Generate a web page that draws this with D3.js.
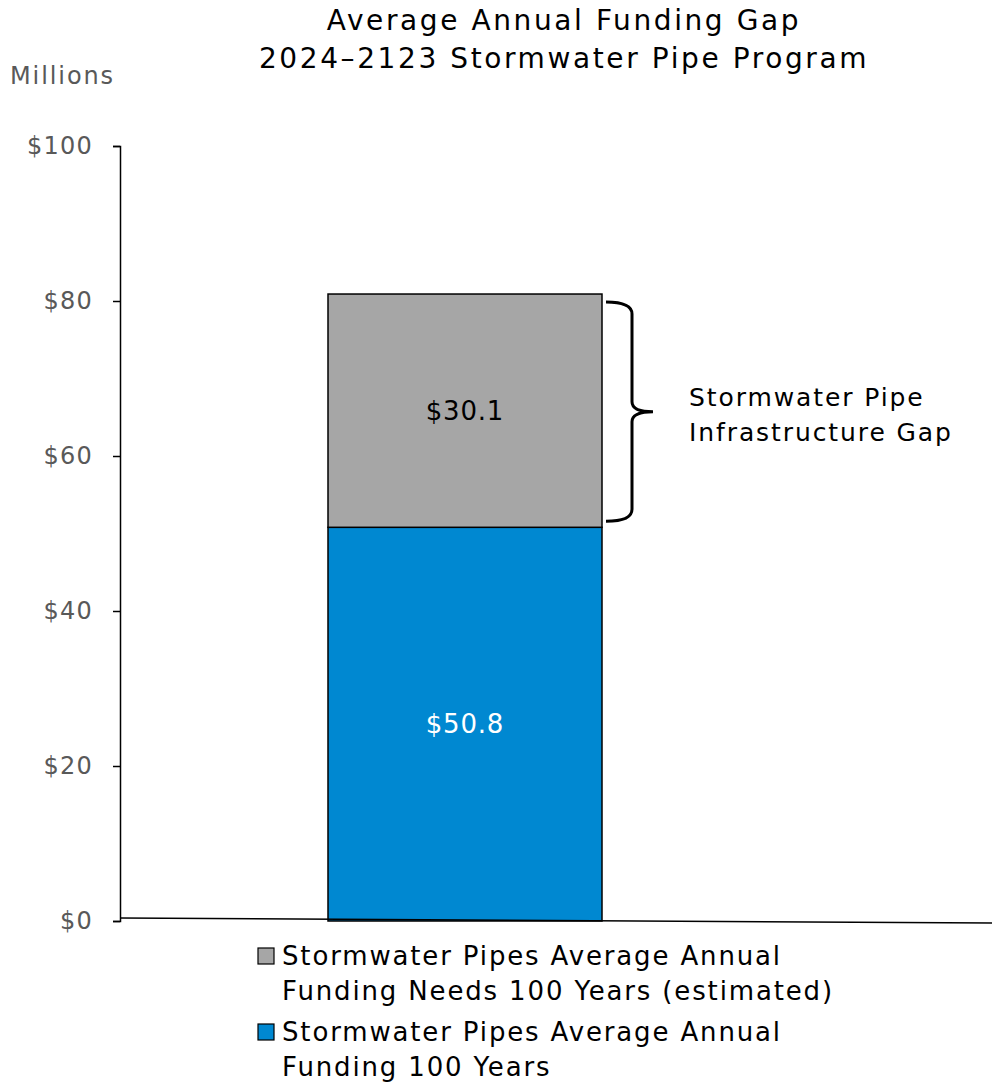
<!DOCTYPE html>
<html>
<head>
<meta charset="utf-8">
<script src="https://cdn.jsdelivr.net/npm/d3@7"></script>
<style>
  body { margin: 0; background: #fff; }
  text { font-family: "DejaVu Sans", sans-serif; }
</style>
</head>
<body>
<div id="chart"></div>
<script>
let height = 1085,
    width = 992,
    margin = ({ top: 146, right: 0, bottom: 164, left: 120 });

// data
const categories = ["Stormwater Pipes"];
const seriesNames = [
  "Stormwater Pipes Average Annual Funding 100 Years",
  "Stormwater Pipes Average Annual Funding Needs 100 Years (estimated)"
];
const funding = [50.8];
const gap = [30.1];
const yTicks = [0, 20, 40, 60, 80, 100];
const gapLabel = ["Stormwater Pipe", "Infrastructure Gap"];
const titleLines = ["Average Annual Funding Gap", "2024–2123 Stormwater Pipe Program"];

const colors = ["#0088d1", "#a6a6a6"];

const svg = d3.select("#chart")
  .append("svg")
  .attr("width", width)
  .attr("height", height);

let y = d3.scaleLinear()
  .domain([0, 100])
  .range([921, margin.top]);

let x = d3.scaleBand()
  .domain(categories)
  .range([328, 602])
  .padding(0);

// stacking
const table = categories.map((c, i) => ({ cat: c, funding: funding[i], gap: gap[i] }));
const stack = d3.stack().keys(["funding", "gap"])(table);

// title
svg.append("g")
  .selectAll("text")
  .data(titleLines)
  .join("text")
  .attr("x", 564)
  .attr("y", 30)
  .attr("dy", (d, i) => i * 38)
  .attr("text-anchor", "middle")
  .attr("font-size", 28)
  .attr("letter-spacing", 2.6)
  .attr("fill", "#000")
  .text(d => d);

svg.append("text")
  .attr("x", 10)
  .attr("y", 84)
  .attr("font-size", 24)
  .attr("letter-spacing", 1.9)
  .attr("fill", "#595959")
  .text("Millions");

// y axis
svg.append("g")
  .attr("transform", `translate(${margin.left},0)`)
  .attr("class", "y-axis")
  .call(d3.axisLeft(y).tickValues(yTicks).tickFormat(d => "$" + d).tickSize(7).tickPadding(20))
  .call(g => g.selectAll("path, line").attr("stroke", "#000").attr("stroke-width", 1.5))
  .call(g => g.selectAll("text").attr("font-size", 24).attr("fill", "#595959")
    .attr("letter-spacing", 1.2)
    .attr("font-family", "\"DejaVu Sans\", sans-serif"));

// bars
svg.append("g")
  .selectAll("g")
  .data(stack)
  .join("g")
  .attr("fill", (d, i) => colors[i])
  .selectAll("rect")
  .data(d => d)
  .join("rect")
  .attr("x", d => x(d.data.cat))
  .attr("y", d => y(d[1]))
  .attr("width", x.bandwidth())
  .attr("height", d => y(d[0]) - y(d[1]))
  .attr("stroke", "#000")
  .attr("stroke-width", 1.5);

// x axis line (slightly tilted like the original)
svg.append("line")
  .attr("x1", margin.left)
  .attr("y1", y(0) - 3)
  .attr("x2", width)
  .attr("y2", y(0) + 2)
  .attr("stroke", "#000")
  .attr("stroke-width", 1.5);

// bar value labels
const labelColors = ["#fff", "#000"];
svg.append("g")
  .selectAll("text")
  .data(stack)
  .join("text")
  .attr("x", d => x(d[0].data.cat) + x.bandwidth() / 2)
  .attr("y", d => y((d[0][0] + d[0][1]) / 2) + 9)
  .attr("text-anchor", "middle")
  .attr("font-size", 26)
  .attr("letter-spacing", 0.8)
  .attr("fill", (d, i) => labelColors[i])
  .text((d, i) => "$" + (i === 0 ? funding[0] : gap[0]).toFixed(1));

// brace for the gap
const bx = x(categories[0]) + x.bandwidth() + 4,
      yTop = y(funding[0] + gap[0]) + 8,
      yBot = y(funding[0]) - 6,
      yMid = (yTop + yBot) / 2;
svg.append("path")
  .attr("d", `M${bx},${yTop} Q${bx + 26},${yTop} ${bx + 26},${yTop + 12}
    L${bx + 26},${yMid - 10} Q${bx + 26},${yMid} ${bx + 47},${yMid}
    Q${bx + 26},${yMid} ${bx + 26},${yMid + 10}
    L${bx + 26},${yBot - 12} Q${bx + 26},${yBot} ${bx},${yBot}`)
  .attr("fill", "none")
  .attr("stroke", "#000")
  .attr("stroke-width", 3);

svg.append("g")
  .selectAll("text")
  .data(gapLabel)
  .join("text")
  .attr("x", 689)
  .attr("y", 406)
  .attr("dy", (d, i) => i * 35)
  .attr("font-size", 25)
  .attr("letter-spacing", 1.9)
  .attr("fill", "#000")
  .text(d => d);

// legend
const legend = [
  { color: colors[1], lines: ["Stormwater Pipes Average Annual", "Funding Needs 100 Years (estimated)"] },
  { color: colors[0], lines: ["Stormwater Pipes Average Annual", "Funding 100 Years"] }
];
const lg = svg.append("g")
  .selectAll("g")
  .data(legend)
  .join("g")
  .attr("transform", (d, i) => `translate(258,${948 + i * 76})`);

lg.append("rect")
  .attr("width", 16)
  .attr("height", 16)
  .attr("fill", d => d.color)
  .attr("stroke", "#000")
  .attr("stroke-width", 1.2);

lg.selectAll("text")
  .data(d => d.lines)
  .join("text")
  .attr("x", 24)
  .attr("y", 17)
  .attr("dy", (d, i) => i * 35)
  .attr("font-size", 26)
  .attr("letter-spacing", 1.85)
  .attr("fill", "#000")
  .text(d => d);
</script>
</body>
</html>
